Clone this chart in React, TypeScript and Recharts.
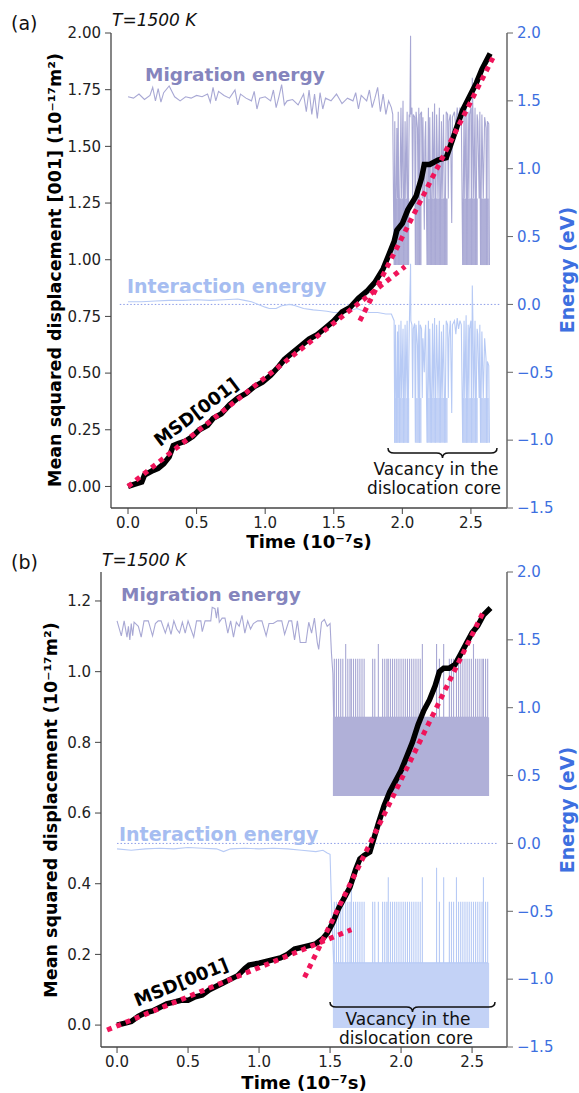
import React from "react";
import { ComposedChart, Line, Area, XAxis, YAxis, ReferenceLine } from "recharts";

type Pt = [number, number];

const timeTicks = [0, 0.5, 1, 1.5, 2, 2.5];
const energyTicks = [-1.5, -1, -0.5, 0, 0.5, 1, 1.5, 2];
const msdTicksA = [0, 0.25, 0.5, 0.75, 1, 1.25, 1.5, 1.75, 2];
const msdTicksB = [0, 0.2, 0.4, 0.6, 0.8, 1.0, 1.2];

// ---- panel (a) ----
const msdA: Pt[] = [
  [0, 0], [0.05, 0.01], [0.1, 0.02], [0.12, 0.05], [0.18, 0.07], [0.22, 0.08], [0.26, 0.1],
  [0.3, 0.13], [0.33, 0.18], [0.37, 0.19], [0.42, 0.2], [0.47, 0.22], [0.52, 0.25], [0.58, 0.27],
  [0.62, 0.3], [0.68, 0.32], [0.74, 0.36], [0.8, 0.39], [0.86, 0.41], [0.92, 0.44], [0.98, 0.46],
  [1.04, 0.49], [1.1, 0.53], [1.14, 0.56], [1.2, 0.59], [1.26, 0.62], [1.32, 0.65], [1.38, 0.67],
  [1.44, 0.7], [1.5, 0.73], [1.56, 0.77], [1.62, 0.79], [1.68, 0.83], [1.74, 0.86], [1.8, 0.9],
  [1.86, 0.96], [1.9, 1.02], [1.94, 1.08], [1.96, 1.13], [2.0, 1.16], [2.04, 1.22], [2.1, 1.28],
  [2.14, 1.36], [2.16, 1.42], [2.2, 1.42], [2.26, 1.44], [2.32, 1.45], [2.36, 1.52], [2.4, 1.59],
  [2.44, 1.66], [2.49, 1.72], [2.54, 1.78], [2.58, 1.84], [2.64, 1.91],
];
const fitA1: Pt[] = [[0, 0], [2.02, 0.97]];
const fitA2: Pt[] = [[1.69, 0.73], [2.66, 1.89]];

const migA: Pt[] = [
  [0, 1.53], [0.04, 1.52], [0.08, 1.55], [0.12, 1.51], [0.16, 1.54], [0.18, 1.6], [0.2, 1.5],
  [0.22, 1.59], [0.24, 1.49], [0.26, 1.56], [0.3, 1.61], [0.34, 1.53], [0.38, 1.5], [0.42, 1.53],
  [0.46, 1.52], [0.5, 1.54], [0.54, 1.53], [0.58, 1.55], [0.6, 1.49], [0.62, 1.6], [0.64, 1.5],
  [0.66, 1.57], [0.7, 1.54], [0.74, 1.52], [0.78, 1.58], [0.8, 1.47], [0.82, 1.55], [0.86, 1.52],
  [0.9, 1.5], [0.92, 1.57], [0.94, 1.44], [0.96, 1.52], [1.0, 1.53], [1.04, 1.5], [1.06, 1.58],
  [1.08, 1.45], [1.1, 1.53], [1.12, 1.62], [1.14, 1.47], [1.16, 1.5], [1.2, 1.51], [1.24, 1.47],
  [1.28, 1.55], [1.3, 1.42], [1.32, 1.58], [1.34, 1.4], [1.36, 1.55], [1.38, 1.37], [1.4, 1.56],
  [1.42, 1.44], [1.44, 1.52], [1.48, 1.5], [1.52, 1.55], [1.56, 1.48], [1.6, 1.52], [1.64, 1.5],
  [1.66, 1.56], [1.68, 1.44], [1.7, 1.54], [1.74, 1.5], [1.76, 1.58], [1.78, 1.45], [1.8, 1.52],
  [1.82, 1.6], [1.84, 1.42], [1.86, 1.55], [1.88, 1.4], [1.9, 1.5], [1.92, 1.45],
  [1.93, 1.4], [1.94, 0.29], [1.945, 1.35], [1.95, 0.29], [1.96, 1.3], [1.965, 0.78], [1.97, 1.42],
  [1.975, 0.29], [1.99, 1.45], [1.995, 0.78], [2.005, 1.5], [2.01, 0.29], [2.02, 1.35], [2.025, 0.78],
  [2.035, 1.42], [2.04, 0.29], [2.05, 1.4], [2.055, 1.38], [2.06, 1.98], [2.062, 1.4], [2.07, 1.45],
  [2.075, 0.78], [2.08, 1.4], [2.09, 1.38], [2.095, 0.29], [2.1, 1.42], [2.11, 1.3], [2.115, 0.78],
  [2.12, 1.45], [2.125, 0.29], [2.13, 1.4], [2.14, 1.42], [2.145, 0.78], [2.15, 1.38], [2.16, 0.55],
  [2.165, 1.2], [2.17, 1.35], [2.18, 0.29], [2.19, 1.45], [2.195, 0.78], [2.2, 1.38], [2.21, 0.29],
  [2.22, 1.42], [2.225, 0.78], [2.235, 1.48], [2.24, 0.29], [2.25, 1.4], [2.26, 0.78], [2.27, 1.45],
  [2.275, 0.29], [2.285, 1.35], [2.29, 0.78], [2.3, 1.4], [2.31, 0.29], [2.32, 1.42], [2.33, 1.4],
  [2.335, 0.78], [2.34, 1.35], [2.35, 1.4], [2.36, 0.6], [2.365, 1.38], [2.38, 1.42], [2.39, 1.3],
  [2.4, 1.45], [2.41, 1.35], [2.42, 1.45], [2.43, 1.4], [2.44, 0.29], [2.45, 1.45], [2.455, 0.78],
  [2.465, 1.5], [2.47, 0.29], [2.48, 1.42], [2.485, 0.78], [2.49, 1.4], [2.5, 1.45], [2.505, 0.29],
  [2.51, 1.67], [2.515, 1.4], [2.52, 0.78], [2.53, 1.45], [2.535, 0.29], [2.545, 1.4], [2.55, 1.35],
  [2.56, 0.78], [2.565, 1.42], [2.57, 0.29], [2.58, 1.4], [2.59, 0.78], [2.6, 1.38], [2.61, 1.3],
  [2.615, 0.29], [2.62, 1.35], [2.63, 1.33], [2.635, 0.29],
];

const intA: Pt[] = [
  [0, 0.02], [0.1, 0.02], [0.2, 0.025], [0.3, 0.03], [0.4, 0.03], [0.5, 0.035], [0.6, 0.03],
  [0.7, 0.035], [0.8, 0.04], [0.85, 0.03], [0.9, 0.02], [0.95, 0.0], [1.0, -0.02], [1.03, -0.03],
  [1.08, -0.03], [1.12, -0.01], [1.18, 0.0], [1.22, -0.01], [1.28, -0.03], [1.35, -0.04],
  [1.4, -0.045], [1.45, -0.05], [1.5, -0.06], [1.55, -0.06], [1.6, -0.05], [1.67, -0.03],
  [1.72, -0.05], [1.76, -0.06], [1.82, -0.06], [1.88, -0.07], [1.92, -0.07],
  [1.94, -0.12], [1.945, -1.02], [1.95, -0.15], [1.96, -1.02], [1.965, -0.2], [1.97, -0.69],
  [1.975, -0.15], [1.98, -1.02], [1.99, -0.12], [1.995, -0.69], [2.005, -0.18], [2.01, -1.02],
  [2.02, -0.15], [2.025, -0.69], [2.035, -0.12], [2.04, -1.02], [2.05, -0.2], [2.06, 0.3],
  [2.062, -0.12], [2.07, -0.15], [2.075, -0.69], [2.08, -0.18], [2.09, -0.14], [2.095, -1.02],
  [2.1, -0.15], [2.11, -0.3], [2.115, -0.69], [2.12, -0.12], [2.125, -1.02], [2.13, -0.15],
  [2.14, -0.18], [2.145, -0.69], [2.15, -0.25], [2.16, -0.5], [2.165, -0.22], [2.17, -0.15],
  [2.18, -1.02], [2.19, -0.12], [2.195, -0.69], [2.2, -0.18], [2.21, -1.02], [2.22, -0.14],
  [2.225, -0.69], [2.235, -0.1], [2.24, -1.02], [2.25, -0.15], [2.26, -0.69], [2.27, -0.12],
  [2.275, -1.02], [2.285, -0.2], [2.29, -0.69], [2.3, -0.15], [2.31, -1.02], [2.32, -0.12],
  [2.33, -0.15], [2.335, -0.69], [2.34, -0.25], [2.35, -0.12], [2.36, -0.8], [2.365, -0.15],
  [2.38, -0.12], [2.39, -0.22], [2.4, -0.1], [2.41, -0.18], [2.42, -0.12], [2.43, -0.15],
  [2.44, -1.02], [2.45, -0.12], [2.455, -0.69], [2.465, -0.08], [2.47, -1.02], [2.48, -0.15],
  [2.485, -0.69], [2.49, -0.18], [2.5, -0.12], [2.505, -1.02], [2.51, 0.14], [2.515, -0.15],
  [2.52, -0.69], [2.53, -0.12], [2.535, -1.02], [2.545, -0.18], [2.55, -0.22], [2.56, -0.69],
  [2.565, -0.15], [2.57, -1.02], [2.58, -0.2], [2.59, -0.69], [2.6, -0.25], [2.61, -0.4],
  [2.615, -1.02], [2.62, -0.42], [2.63, -0.45], [2.635, -1.02],
];

// time spans where the energy flickers fast between two levels
const bandsA: Pt[] = [[1.94, 2.05], [2.1, 2.14], [2.18, 2.33], [2.44, 2.55], [2.57, 2.63]];
const migLevelsA: Pt = [0.29, 0.78];
const intLevelsA: Pt = [-1.02, -0.69];

// ---- panel (b) ----
const msdB: Pt[] = [
  [0, 0], [0.05, 0.005], [0.1, 0.01], [0.15, 0.025], [0.2, 0.035], [0.25, 0.04], [0.3, 0.05],
  [0.35, 0.06], [0.4, 0.065], [0.45, 0.07], [0.5, 0.07], [0.55, 0.08], [0.6, 0.085], [0.65, 0.1],
  [0.7, 0.11], [0.75, 0.12], [0.8, 0.13], [0.85, 0.14], [0.9, 0.16], [0.93, 0.17], [1.0, 0.175],
  [1.05, 0.18], [1.1, 0.185], [1.15, 0.19], [1.2, 0.2], [1.25, 0.215], [1.3, 0.22], [1.35, 0.225],
  [1.4, 0.23], [1.45, 0.245], [1.48, 0.26], [1.52, 0.29], [1.56, 0.33], [1.6, 0.36], [1.64, 0.39],
  [1.68, 0.44], [1.71, 0.47], [1.74, 0.48], [1.78, 0.49], [1.81, 0.53], [1.84, 0.57], [1.88, 0.62],
  [1.92, 0.66], [1.96, 0.69], [2.0, 0.72], [2.04, 0.76], [2.08, 0.8], [2.12, 0.85], [2.16, 0.89],
  [2.2, 0.92], [2.24, 0.96], [2.27, 1.0], [2.3, 1.01], [2.34, 1.01], [2.38, 1.02], [2.42, 1.05],
  [2.46, 1.08], [2.5, 1.11], [2.54, 1.13], [2.58, 1.16], [2.63, 1.18],
];
const fitB1: Pt[] = [[-0.07, -0.014], [1.65, 0.27]];
const fitB2: Pt[] = [[1.32, 0.135], [2.58, 1.17]];

const migPreB: Pt[] = [
  [0, 1.64], [0.03, 1.53], [0.05, 1.64], [0.07, 1.52], [0.08, 1.6], [0.09, 1.5], [0.1, 1.62],
  [0.11, 1.53], [0.12, 1.63], [0.15, 1.6], [0.17, 1.52], [0.19, 1.64], [0.22, 1.64], [0.25, 1.53],
  [0.27, 1.62], [0.29, 1.64], [0.31, 1.64], [0.34, 1.55], [0.36, 1.62], [0.38, 1.54], [0.4, 1.64],
  [0.42, 1.58], [0.44, 1.55], [0.46, 1.63], [0.48, 1.55], [0.5, 1.64], [0.52, 1.58], [0.54, 1.52],
  [0.56, 1.64], [0.59, 1.64], [0.6, 1.56], [0.62, 1.64], [0.64, 1.64], [0.66, 1.64], [0.67, 1.74],
  [0.69, 1.73], [0.7, 1.66], [0.71, 1.74], [0.72, 1.63], [0.74, 1.66], [0.76, 1.66], [0.78, 1.55],
  [0.8, 1.64], [0.82, 1.52], [0.84, 1.63], [0.86, 1.6], [0.88, 1.68], [0.9, 1.55], [0.92, 1.64],
  [0.94, 1.58], [0.96, 1.62], [0.99, 1.64], [1.02, 1.64], [1.05, 1.53], [1.07, 1.62], [1.1, 1.62],
  [1.13, 1.64], [1.16, 1.64], [1.18, 1.54], [1.21, 1.64], [1.23, 1.64], [1.25, 1.5], [1.27, 1.64],
  [1.29, 1.48], [1.33, 1.48], [1.35, 1.63], [1.37, 1.55], [1.39, 1.66], [1.41, 1.48], [1.42, 1.43],
  [1.44, 1.63], [1.46, 1.65], [1.48, 1.6], [1.5, 1.62], [1.51, 1.4], [1.52, 1.25], [1.525, 0.93],
];
const intPreB: Pt[] = [
  [0, -0.04], [0.1, -0.05], [0.2, -0.04], [0.3, -0.035], [0.4, -0.04], [0.5, -0.03], [0.6, -0.035],
  [0.7, -0.04], [0.75, -0.06], [0.8, -0.04], [0.9, -0.035], [1.0, -0.04], [1.1, -0.035], [1.2, -0.04],
  [1.3, -0.05], [1.4, -0.06], [1.45, -0.05], [1.48, -0.07], [1.5, -0.08], [1.51, -0.44], [1.525, -0.88],
];

// [time, migration peak, interaction peak] of each flicker in the core
const spikesB: [number, number, number][] = [
  [1.53, 1.36, -0.43], [1.545, 1.36, -0.43], [1.56, 1.36, -0.43], [1.575, 1.36, -0.43],
  [1.59, 1.36, -0.43], [1.61, 1.47, -0.43], [1.625, 1.36, -0.43], [1.64, 1.36, -0.43],
  [1.65, 1.36, -0.25], [1.665, 1.36, -0.43], [1.68, 1.36, -0.43], [1.695, 1.36, -0.43],
  [1.71, 1.36, -0.43], [1.725, 1.36, -0.43], [1.74, 1.36, -0.43],
  [1.8, 1.36, -0.43], [1.815, 1.36, -0.43], [1.84, 1.47, -0.43],
  [1.87, 1.36, -0.43], [1.885, 1.36, -0.43], [1.9, 1.36, -0.43], [1.91, 1.36, -0.25],
  [1.925, 1.36, -0.43], [1.94, 1.36, -0.43], [1.955, 1.36, -0.43], [1.97, 1.36, -0.43],
  [1.985, 1.36, -0.43], [2.0, 1.36, -0.43], [2.015, 1.36, -0.43], [2.03, 1.36, -0.43],
  [2.045, 1.36, -0.43], [2.06, 1.36, -0.43], [2.075, 1.36, -0.43], [2.09, 1.36, -0.43],
  [2.105, 1.36, -0.43], [2.12, 1.36, -0.43], [2.135, 1.36, -0.43], [2.15, 1.47, -0.25],
  [2.25, 1.47, -0.18], [2.27, 1.36, -0.43], [2.3, 1.47, -0.25],
  [2.34, 1.36, -0.43], [2.355, 1.36, -0.43], [2.37, 1.36, -0.43], [2.39, 1.36, -0.25],
  [2.405, 1.36, -0.43], [2.42, 1.36, -0.43], [2.435, 1.36, -0.43], [2.45, 1.36, -0.43],
  [2.465, 1.36, -0.43], [2.48, 1.36, -0.43], [2.495, 1.36, -0.43], [2.51, 1.47, -0.43],
  [2.525, 1.36, -0.43], [2.54, 1.36, -0.43], [2.555, 1.36, -0.43], [2.57, 1.36, -0.43],
  [2.58, 1.36, -0.25], [2.595, 1.36, -0.43], [2.61, 1.36, -0.43],
];
const bandsB: Pt[] = [[1.52, 2.62]];
const migLevelsB: Pt = [0.35, 0.93];
const intLevelsB: Pt = [-1.36, -0.88];

const migB: Pt[] = [
  ...migPreB,
  ...spikesB.flatMap(([t, m]) => [[t, migLevelsB[1]], [t, m], [t, migLevelsB[1]]] as Pt[]),
];
const intB: Pt[] = [
  ...intPreB,
  ...spikesB.flatMap(([t, , e]) => [[t, intLevelsB[1]], [t, e], [t, intLevelsB[1]]] as Pt[]),
];

const MIG = "#a8a8d4";
const MIG_FILL = "#b0b0d8";
const MIG_TEXT = "#8585bd";
const INT = "#b7caf5";
const INT_FILL = "#c3d2f6";
const INT_TEXT = "#a6bdf1";
const RED = "#f0145a";
const BLUE = "#3d6fe0";
const SPINE = "#444";
const FONT = "DejaVu Sans";

const rows = (pts: Pt[]) => pts.map(([t, v]) => ({ t, v }));
const fmtEnergy = (v: number) => (v < 0 ? "\u2212" + Math.abs(v).toFixed(1) : v.toFixed(1));

interface PanelProps {
  height: number;
  top: number;
  xHeight: number;
  leftWidth: number;
  xDomain: [number, number];
  yDomain: [number, number];
  yTicks: number[];
  digits: number;
  msd: Pt[];
  fits: Pt[][];
  mig: Pt[];
  int: Pt[];
  bands: Pt[];
  migLevels: Pt;
  intLevels: Pt;
  zeroFrom: number;
  zeroTo: number;
}

function Panel(p: PanelProps) {
  const tickStyle = { fontSize: 15, fill: "#222", fontFamily: FONT };
  return (
    <ComposedChart width={579} height={p.height} margin={{ top: p.top, right: 0, bottom: 0, left: 0 }}>
      <XAxis
        dataKey="t"
        type="number"
        domain={p.xDomain}
        ticks={timeTicks}
        allowDataOverflow
        height={p.xHeight}
        tickFormatter={(v: number) => v.toFixed(1)}
        tick={tickStyle}
        tickSize={6}
        tickMargin={3}
        axisLine={{ stroke: SPINE, strokeWidth: 1.3 }}
        tickLine={{ stroke: SPINE }}
      />
      <XAxis
        xAxisId="top"
        orientation="top"
        type="number"
        domain={p.xDomain}
        allowDataOverflow
        height={0}
        tick={false}
        tickLine={false}
        axisLine={{ stroke: SPINE, strokeWidth: 1.3 }}
      />
      <YAxis
        yAxisId="left"
        type="number"
        domain={p.yDomain}
        ticks={p.yTicks}
        allowDataOverflow
        width={p.leftWidth}
        tickFormatter={(v: number) => v.toFixed(p.digits)}
        tick={tickStyle}
        tickSize={6}
        tickMargin={4}
        axisLine={{ stroke: SPINE, strokeWidth: 1.3 }}
        tickLine={{ stroke: SPINE }}
      />
      <YAxis
        yAxisId="right"
        orientation="right"
        type="number"
        domain={[-1.5, 2]}
        ticks={energyTicks}
        allowDataOverflow
        width={72}
        tickFormatter={fmtEnergy}
        tick={{ ...tickStyle, fill: BLUE }}
        tickSize={6}
        tickMargin={4}
        axisLine={{ stroke: "#666", strokeWidth: 1.5 }}
        tickLine={{ stroke: "#666" }}
      />
      {p.bands.map(([a, b], i) => (
        <Area
          key={"mb" + i}
          yAxisId="right"
          data={[{ t: a, band: p.migLevels }, { t: b, band: p.migLevels }]}
          dataKey="band"
          type="linear"
          stroke="none"
          fill={MIG_FILL}
          fillOpacity={1}
          dot={false}
          activeDot={false}
          isAnimationActive={false}
        />
      ))}
      {p.bands.map(([a, b], i) => (
        <Area
          key={"ib" + i}
          yAxisId="right"
          data={[{ t: a, band: p.intLevels }, { t: b, band: p.intLevels }]}
          dataKey="band"
          type="linear"
          stroke="none"
          fill={INT_FILL}
          fillOpacity={1}
          dot={false}
          activeDot={false}
          isAnimationActive={false}
        />
      ))}
      <ReferenceLine
        yAxisId="right"
        segment={[{ x: p.zeroFrom, y: 0 }, { x: p.zeroTo, y: 0 }]}
        stroke="#8c9ce8"
        strokeWidth={1}
        strokeDasharray="1.5 2"
      />
      <Line yAxisId="right" data={rows(p.mig)} dataKey="v" type="linear" stroke={MIG} strokeWidth={1.1} dot={false} activeDot={false} isAnimationActive={false} />
      <Line yAxisId="right" data={rows(p.int)} dataKey="v" type="linear" stroke={INT} strokeWidth={1.1} dot={false} activeDot={false} isAnimationActive={false} />
      <Line yAxisId="left" data={rows(p.msd)} dataKey="v" type="linear" stroke="#000" strokeWidth={5.5} dot={false} activeDot={false} isAnimationActive={false} />
      {p.fits.map((f, i) => (
        <Line
          key={"fit" + i}
          yAxisId="left"
          data={rows(f)}
          dataKey="v"
          type="linear"
          stroke={RED}
          strokeWidth={5}
          strokeDasharray="5 5"
          dot={false}
          activeDot={false}
          isAnimationActive={false}
        />
      ))}
    </ComposedChart>
  );
}

const brace = (x1: number, x2: number, y: number) => {
  const m = (x1 + x2) / 2;
  return `M${x1},${y - 5} Q${x1},${y} ${x1 + 6},${y} L${m - 6},${y} Q${m},${y} ${m},${y + 5} Q${m},${y} ${m + 6},${y} L${x2 - 6},${y} Q${x2},${y} ${x2},${y - 5}`;
};

export default function App() {
  const bold = { fontFamily: FONT, fontWeight: 700 } as const;
  return (
    <div style={{ position: "absolute", left: 0, top: 0, width: 579, height: 1093, background: "#fff" }}>
      <div style={{ position: "absolute", left: 0, top: 0 }}>
        <Panel
          height={552}
          top={33}
          xHeight={44}
          leftWidth={111}
          xDomain={[-0.124, 2.763]}
          yDomain={[-0.095, 2.0]}
          yTicks={msdTicksA}
          digits={2}
          msd={msdA}
          fits={[fitA1, fitA2]}
          mig={migA}
          int={intA}
          bands={bandsA}
          migLevels={migLevelsA}
          intLevels={intLevelsA}
          zeroFrom={-0.06}
          zeroTo={2.72}
        />
      </div>
      <div style={{ position: "absolute", left: 0, top: 540 }}>
        <Panel
          height={553}
          top={32}
          xHeight={46}
          leftWidth={101}
          xDomain={[-0.113, 2.746]}
          yDomain={[-0.062, 1.282]}
          yTicks={msdTicksB}
          digits={1}
          msd={msdB}
          fits={[fitB1, fitB2]}
          mig={migB}
          int={intB}
          bands={bandsB}
          migLevels={migLevelsB}
          intLevels={intLevelsB}
          zeroFrom={0.0}
          zeroTo={2.68}
        />
      </div>
      <svg width={579} height={1093} style={{ position: "absolute", left: 0, top: 0, pointerEvents: "none" }}>
        {/* panel (a) */}
        <text x={11} y={30} fontFamily={FONT} fontSize={19} fill="#111">(a)</text>
        <text x={112} y={26} fontFamily={FONT} fontSize={17} fontStyle="italic" fill="#111">T=1500 K</text>
        <text x={145} y={81} {...bold} fontSize={18.5} fill={MIG_TEXT}>Migration energy</text>
        <text x={127} y={293} {...bold} fontSize={19} fill={INT_TEXT}>Interaction energy</text>
        <text x={196} y={412} {...bold} fontSize={18} fill="#000" textAnchor="middle" dominantBaseline="central" transform="rotate(-37 196 412)">MSD[001]</text>
        <path d={brace(388, 497, 453)} fill="none" stroke="#111" strokeWidth={1.5} />
        <text x={436} y={475} fontFamily={FONT} fontSize={17} fill="#111" textAnchor="middle">Vacancy in the</text>
        <text x={434} y={494} fontFamily={FONT} fontSize={17} fill="#111" textAnchor="middle">dislocation core</text>
        <text x={55} y={270} {...bold} fontSize={17.5} fill="#000" textAnchor="middle" dominantBaseline="central" transform="rotate(-90 55 270)">Mean squared displacement [001] (10⁻¹⁷m²)</text>
        <text x={567} y={270} {...bold} fontSize={19} fill={BLUE} textAnchor="middle" dominantBaseline="central" transform="rotate(-90 567 270)">Energy (eV)</text>
        <text x={309} y={541} {...bold} fontSize={18} fill="#000" textAnchor="middle" dominantBaseline="central">Time (10⁻⁷s)</text>

        {/* panel (b) */}
        <text x={11} y={569} fontFamily={FONT} fontSize={19} fill="#111">(b)</text>
        <text x={102} y={566} fontFamily={FONT} fontSize={17} fontStyle="italic" fill="#111">T=1500 K</text>
        <text x={121} y={601} {...bold} fontSize={18.5} fill={MIG_TEXT}>Migration energy</text>
        <text x={119} y={841} {...bold} fontSize={19} fill={INT_TEXT}>Interaction energy</text>
        <text x={181} y={982} {...bold} fontSize={18} fill="#000" textAnchor="middle" dominantBaseline="central" transform="rotate(-22 181 982)">MSD[001]</text>
        <path d={brace(330, 495, 1007)} fill="none" stroke="#111" strokeWidth={1.5} />
        <text x={408} y={1025} fontFamily={FONT} fontSize={17} fill="#111" textAnchor="middle">Vacancy in the</text>
        <text x={406} y={1044} fontFamily={FONT} fontSize={17} fill="#111" textAnchor="middle">dislocation core</text>
        <text x={51} y={810} {...bold} fontSize={17.5} fill="#000" textAnchor="middle" dominantBaseline="central" transform="rotate(-90 51 810)">Mean squared displacement (10⁻¹⁷m²)</text>
        <text x={567} y={810} {...bold} fontSize={19} fill={BLUE} textAnchor="middle" dominantBaseline="central" transform="rotate(-90 567 810)">Energy (eV)</text>
        <text x={304} y={1082} {...bold} fontSize={18} fill="#000" textAnchor="middle" dominantBaseline="central">Time (10⁻⁷s)</text>
      </svg>
    </div>
  );
}
